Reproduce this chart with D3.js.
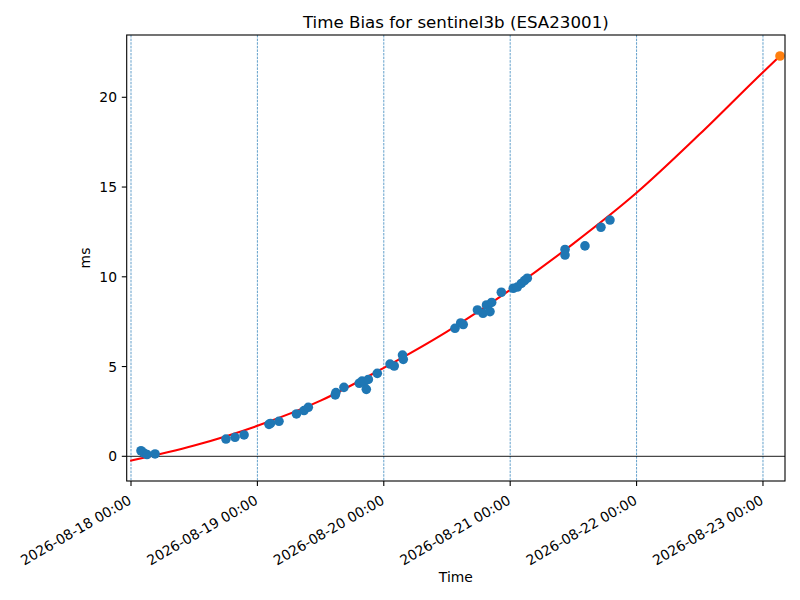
<!DOCTYPE html>
<html>
<head>
<meta charset="utf-8">
<script src="https://cdn.jsdelivr.net/npm/d3@7"></script>
<style>
  body { margin: 0; background: #fff; }
  text { font-family: "DejaVu Sans", sans-serif; fill: #000; }
</style>
</head>
<body>
<div id="chart"></div>
<script>
// observed time bias points (UTC)
var obsTimes = [
  "2026-08-18T01:54","2026-08-18T02:28","2026-08-18T03:02","2026-08-18T04:34",
  "2026-08-18T18:02","2026-08-18T19:45","2026-08-18T21:28",
  "2026-08-19T02:12","2026-08-19T02:29","2026-08-19T04:06","2026-08-19T07:25",
  "2026-08-19T08:51","2026-08-19T09:40","2026-08-19T14:47","2026-08-19T14:55",
  "2026-08-19T16:26","2026-08-19T19:21","2026-08-19T19:52","2026-08-19T20:14",
  "2026-08-19T20:41","2026-08-19T21:04","2026-08-19T22:46",
  "2026-08-20T01:11","2026-08-20T01:59","2026-08-20T03:33","2026-08-20T03:42",
  "2026-08-20T13:31","2026-08-20T14:36","2026-08-20T15:05","2026-08-20T17:47",
  "2026-08-20T18:50","2026-08-20T19:30","2026-08-20T20:10","2026-08-20T20:29",
  "2026-08-20T22:19",
  "2026-08-21T00:35","2026-08-21T01:21","2026-08-21T02:07","2026-08-21T02:43",
  "2026-08-21T03:15","2026-08-21T10:25","2026-08-21T10:25","2026-08-21T14:12",
  "2026-08-21T17:14","2026-08-21T18:57"
];
var obsBias = [
  0.31, 0.18, 0.10, 0.13,
  0.96, 1.06, 1.19,
  1.78, 1.83, 1.95, 2.36,
  2.55, 2.73, 3.42, 3.55,
  3.84, 4.07, 4.19, 4.14,
  3.73, 4.28, 4.62,
  5.14, 5.03, 5.64, 5.40,
  7.13, 7.43, 7.34, 8.15,
  7.97, 8.43, 8.06, 8.57,
  9.14,
  9.36, 9.43, 9.63, 9.79,
  9.92, 11.52, 11.21, 11.72,
  12.76, 13.16
];
// fitted model curve
var fitTimes = [
  "2026-08-17T23:50","2026-08-18T12:00","2026-08-19T00:00","2026-08-19T12:00",
  "2026-08-20T00:00","2026-08-20T12:00","2026-08-21T00:00","2026-08-21T12:00",
  "2026-08-22T00:00","2026-08-22T12:00","2026-08-23T00:00","2026-08-23T03:14"
];
var fitBias = [-0.25, 0.6, 1.7, 3.1, 4.93, 6.95, 9.27, 11.85, 14.68, 17.95, 21.4, 22.3];
// predicted point
var predTime = "2026-08-23T03:14";
var predBias = 22.3;

var yTicks = [0, 5, 10, 15, 20];
var xDomain = ["2026-08-17T23:11", "2026-08-23T04:11"];
var yDomain = [-1.376, 23.47];

var width = 800, height = 600;
var margin = {top: 35, right: 15, bottom: 119, left: 126.7};

var parse = d3.utcParse("%Y-%m-%dT%H:%M");
var fmt = d3.utcFormat("%Y-%m-%d %H:%M");

var svg = d3.select("#chart").append("svg")
  .attr("width", width)
  .attr("height", height);

var x = d3.scaleUtc()
  .domain(xDomain.map(parse))
  .range([margin.left, width - margin.right]);
var y = d3.scaleLinear()
  .domain(yDomain)
  .range([height - margin.bottom, margin.top]);

var x0 = margin.left, x1 = width - margin.right;
var y0 = height - margin.bottom, y1 = margin.top;

svg.append("defs").append("clipPath").attr("id", "clip")
  .append("rect").attr("x", x0).attr("y", y1).attr("width", x1 - x0).attr("height", y0 - y1);

var dayTicks = d3.utcDay.range(parse("2026-08-18T00:00"), parse("2026-08-23T01:00"));

var plot = svg.append("g").attr("clip-path", "url(#clip)");

// vertical day lines
plot.selectAll(".vline").data(dayTicks).enter().append("line")
  .attr("x1", function(d){ return x(d); })
  .attr("x2", function(d){ return x(d); })
  .attr("y1", y1).attr("y2", y0)
  .style("stroke", "#1f77b4")
  .style("stroke-width", 0.7)
  .style("stroke-dasharray", "2.5,1.1");

// zero line
plot.append("line")
  .attr("x1", x0).attr("x2", x1)
  .attr("y1", y(0)).attr("y2", y(0))
  .style("stroke", "#000")
  .style("stroke-width", 0.9);

// fit curve
var fitData = fitTimes.map(function(t, i){ return {t: parse(t), v: fitBias[i]}; });
plot.append("path")
  .datum(fitData)
  .attr("d", d3.line()
    .x(function(d){ return x(d.t); })
    .y(function(d){ return y(d.v); })
    .curve(d3.curveMonotoneX))
  .style("fill", "none")
  .style("stroke", "red")
  .style("stroke-width", 2.08);

// observations
var obsData = obsTimes.map(function(t, i){ return {t: parse(t), v: obsBias[i]}; });
plot.selectAll(".obs").data(obsData).enter().append("circle")
  .attr("cx", function(d){ return x(d.t); })
  .attr("cy", function(d){ return y(d.v); })
  .attr("r", 4.8)
  .style("fill", "#1f77b4");

// predicted
plot.append("circle")
  .attr("cx", x(parse(predTime)))
  .attr("cy", y(predBias))
  .attr("r", 4.8)
  .style("fill", "#ff7f0e");

// frame
svg.append("rect")
  .attr("x", x0).attr("y", y1)
  .attr("width", x1 - x0).attr("height", y0 - y1)
  .style("fill", "none")
  .style("stroke", "#000")
  .style("stroke-width", 1.1);

// x ticks
var xt = svg.selectAll(".xt").data(dayTicks).enter().append("g");
xt.append("line")
  .attr("x1", function(d){ return x(d); })
  .attr("x2", function(d){ return x(d); })
  .attr("y1", y0).attr("y2", y0 + 4.9)
  .style("stroke", "#000").style("stroke-width", 1.1);
xt.append("text")
  .attr("transform", function(d){ return "translate(" + (x(d) - 3.5) + "," + (y0 + 13.5) + ") rotate(-30)"; })
  .attr("text-anchor", "end")
  .attr("dy", "0.72em")
  .style("font-size", "13.89px")
  .text(function(d){ return fmt(d); });

// y ticks
var yt = svg.selectAll(".yt").data(yTicks).enter().append("g");
yt.append("line")
  .attr("x1", x0 - 4.9).attr("x2", x0)
  .attr("y1", function(d){ return y(d); })
  .attr("y2", function(d){ return y(d); })
  .style("stroke", "#000").style("stroke-width", 1.1);
yt.append("text")
  .attr("x", x0 - 9.7)
  .attr("y", function(d){ return y(d); })
  .attr("dy", "0.36em")
  .attr("text-anchor", "end")
  .style("font-size", "13.89px")
  .text(function(d){ return d; });

// labels
svg.append("text")
  .attr("x", (x0 + x1) / 2).attr("y", 28)
  .attr("text-anchor", "middle")
  .style("font-size", "16.67px")
  .text("Time Bias for sentinel3b (ESA23001)");
svg.append("text")
  .attr("x", (x0 + x1) / 2).attr("y", 582)
  .attr("text-anchor", "middle")
  .style("font-size", "13.89px")
  .text("Time");
svg.append("text")
  .attr("transform", "translate(90," + ((y0 + y1) / 2) + ") rotate(-90)")
  .attr("text-anchor", "middle")
  .style("font-size", "13.89px")
  .text("ms");
</script>
</body>
</html>
